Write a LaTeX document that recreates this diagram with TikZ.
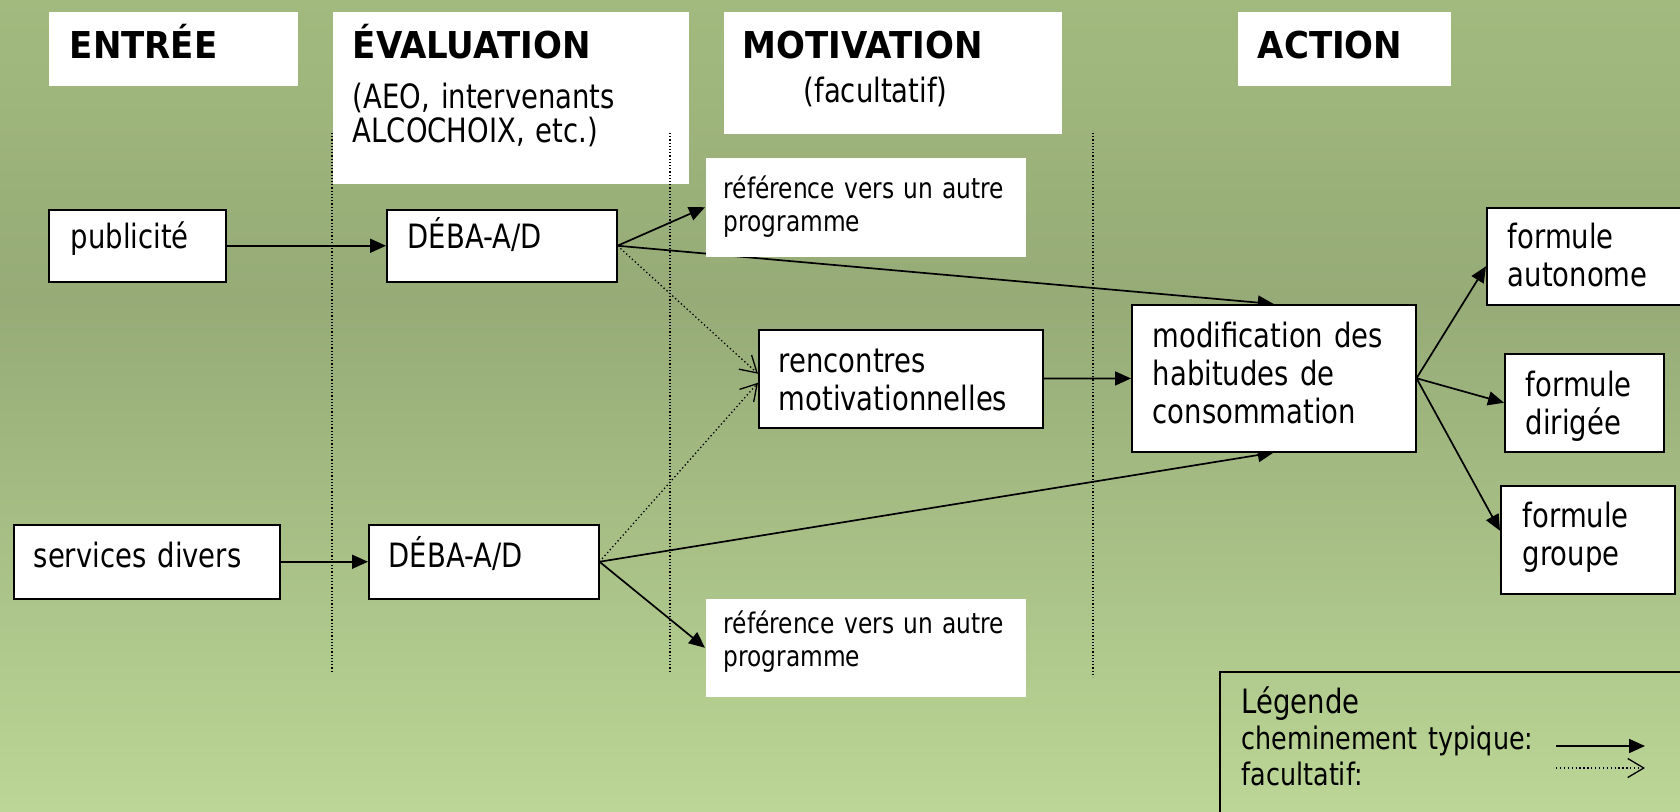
\documentclass[tikz,border=0pt]{standalone}
\usepackage{fontspec}
\setmainfont{DejaVu Sans}[FakeStretch=0.82]
\newfontfamily\headfont{DejaVu Sans}[FakeStretch=0.92]
\usetikzlibrary{arrows.meta}
\definecolor{bgtop}{RGB}{162,186,126}
\definecolor{bgmid}{RGB}{150,171,119}
\definecolor{bgbot}{RGB}{187,214,150}
\pgfdeclarelayer{background}
\pgfdeclarelayer{links}
\pgfsetlayers{background,links,main}
\tikzset{
	box/.style={draw=black, line width=1.5pt, fill=white, anchor=north west, inner ysep=0pt, align=left, font=\fontsize{33.5}{38}\selectfont},
	head/.style={box, draw=none, font=\fontsize{33.5}{34}\selectfont},
	refbox/.style={box, draw=none, inner xsep=18pt, font=\fontsize{28.4}{33}\selectfont},
	legendbox/.style={box, fill=none, font=\fontsize{33.5}{36}\selectfont},
	typique/.style={line width=1.7pt, -{Triangle[length=16pt,width=14pt]}},
	option/.style={line width=1.3pt, dash pattern=on 1.3pt off 2.6pt, -{Straight Barb[length=16pt,width=19pt]}},
	split/.style={line width=1.2pt, dash pattern=on 1.2pt off 2pt}
}
\newcommand{\titre}[1]{{\headfont\bfseries\fontsize{37}{34}\selectfont #1}}

\begin{document}
\begin{tikzpicture}[x=1pt, y=-1pt]
			%%%%% START %%%%%
			\useasboundingbox (0,0) rectangle (1680,811);
			\begin{pgfonlayer}{background}
				\shade[top color=bgtop, bottom color=bgmid] (0,0) rectangle (1680,300);
				\shade[top color=bgmid, bottom color=bgbot] (0,299) rectangle (1680,811);
			\end{pgfonlayer}
			
			% column heads
			\node[head, text width=207pt, minimum width=249pt, text height=47pt, text depth=27pt] (entree) at (48,11) {\titre{ENTRÉE}};
			\node[head, text width=316pt, minimum width=356pt, text height=47pt, text depth=125pt] (evaluation) at (332,11) {\titre{ÉVALUATION}\\[16pt](AEO, intervenants\\ALCOCHOIX, etc.)};
			\node[head, text width=300pt, minimum width=338pt, text height=47pt, text depth=75pt] (motivation) at (723,11) {\titre{MOTIVATION}\\[10pt]\hspace*{61pt}(facultatif)};
			\node[head, text width=173pt, minimum width=213pt, text height=47pt, text depth=27pt] (action) at (1237,11) {\titre{ACTION}};
			
			% entry and evaluation
			\node[box, text width=133pt, minimum width=177pt, text height=39pt, text depth=33pt] (pub) at (48,209) {publicité};
			\node[box, text width=188pt, minimum width=230pt, text height=39pt, text depth=33pt] (debaA) at (386,209) {DÉBA-A/D};
			\node[box, text width=226pt, minimum width=266pt, text height=43pt, text depth=31pt] (serv) at (13,524) {services divers};
			\node[box, text width=190pt, minimum width=230pt, text height=43pt, text depth=31pt] (debaB) at (368,524) {DÉBA-A/D};
			
			% motivation
			\node[refbox, text width=284pt, minimum width=320pt, text height=41pt, text depth=58pt] (refA) at (705,157) {référence vers un autre\\programme};
			\node[box, text width=244pt, minimum width=284pt, text height=43pt, text depth=55pt] (ren) at (758,329) {rencontres\\motivationnelles};
			\node[refbox, text width=284pt, minimum width=320pt, text height=35pt, text depth=63pt] (refB) at (705,598) {référence vers un autre\\programme};
			
			% action
			\node[box, text width=242pt, minimum width=284pt, text height=43pt, text depth=104pt] (modif) at (1131,304) {modification des\\habitudes de\\consommation};
			\node[box, text width=188pt, minimum width=230pt, text height=41pt, text depth=56pt] (aut) at (1486,207) {formule\\autonome};
			\node[box, text width=117pt, minimum width=159pt, text height=43pt, text depth=55pt] (dir) at (1504,353) {formule\\dirigée};
			\node[box, text width=130pt, minimum width=174pt, text height=42pt, text depth=66pt] (grp) at (1500,485) {formule\\groupe};
			
			% legend
			\node[legendbox, text width=456pt, minimum width=500pt, text height=42pt, text depth=158pt] (legende) at (1219,671) {Légende\\{\fontsize{31}{36}\selectfont cheminement typique:\\facultatif:}};
			\coordinate (typA) at (1556,746);
			\coordinate (typB) at (1645,746);
			\coordinate (facA) at (1556,768);
			\coordinate (facB) at (1645,768);
			
			% column separators
			\draw[split] (332,133) -- (332,671);
			\draw[split] (670,133) -- (670,671);
			\draw[split] (1093,133) -- (1093,677);
			
			\begin{pgfonlayer}{links}
				\draw[typique] (pub) -- (debaA);
				\draw[typique] (serv) -- (debaB);
				\draw[typique] (debaA.east) -- (refA.west);
				\draw[typique] (debaA.east) -- (modif.north);
				\draw[option] (debaA.east) -- ([yshift=5pt]ren.west);
				\draw[option] (debaB.east) -- ([yshift=-4pt]ren.west);
				\draw[typique] (debaB.east) -- (modif.south);
				\draw[typique] (debaB.east) -- (refB.west);
				\draw[typique] (ren) -- (modif);
				\draw[typique] (modif.east) -- ([yshift=-10pt]aut.west);
				\draw[typique] (modif.east) -- (dir.west);
				\draw[typique] (modif.east) -- ([yshift=9pt]grp.west);
				\draw[typique] (typA) -- (typB);
				\draw[option] (facA) -- (facB);
			\end{pgfonlayer}
			%%%%% END %%%%%
\end{tikzpicture}
\end{document}
